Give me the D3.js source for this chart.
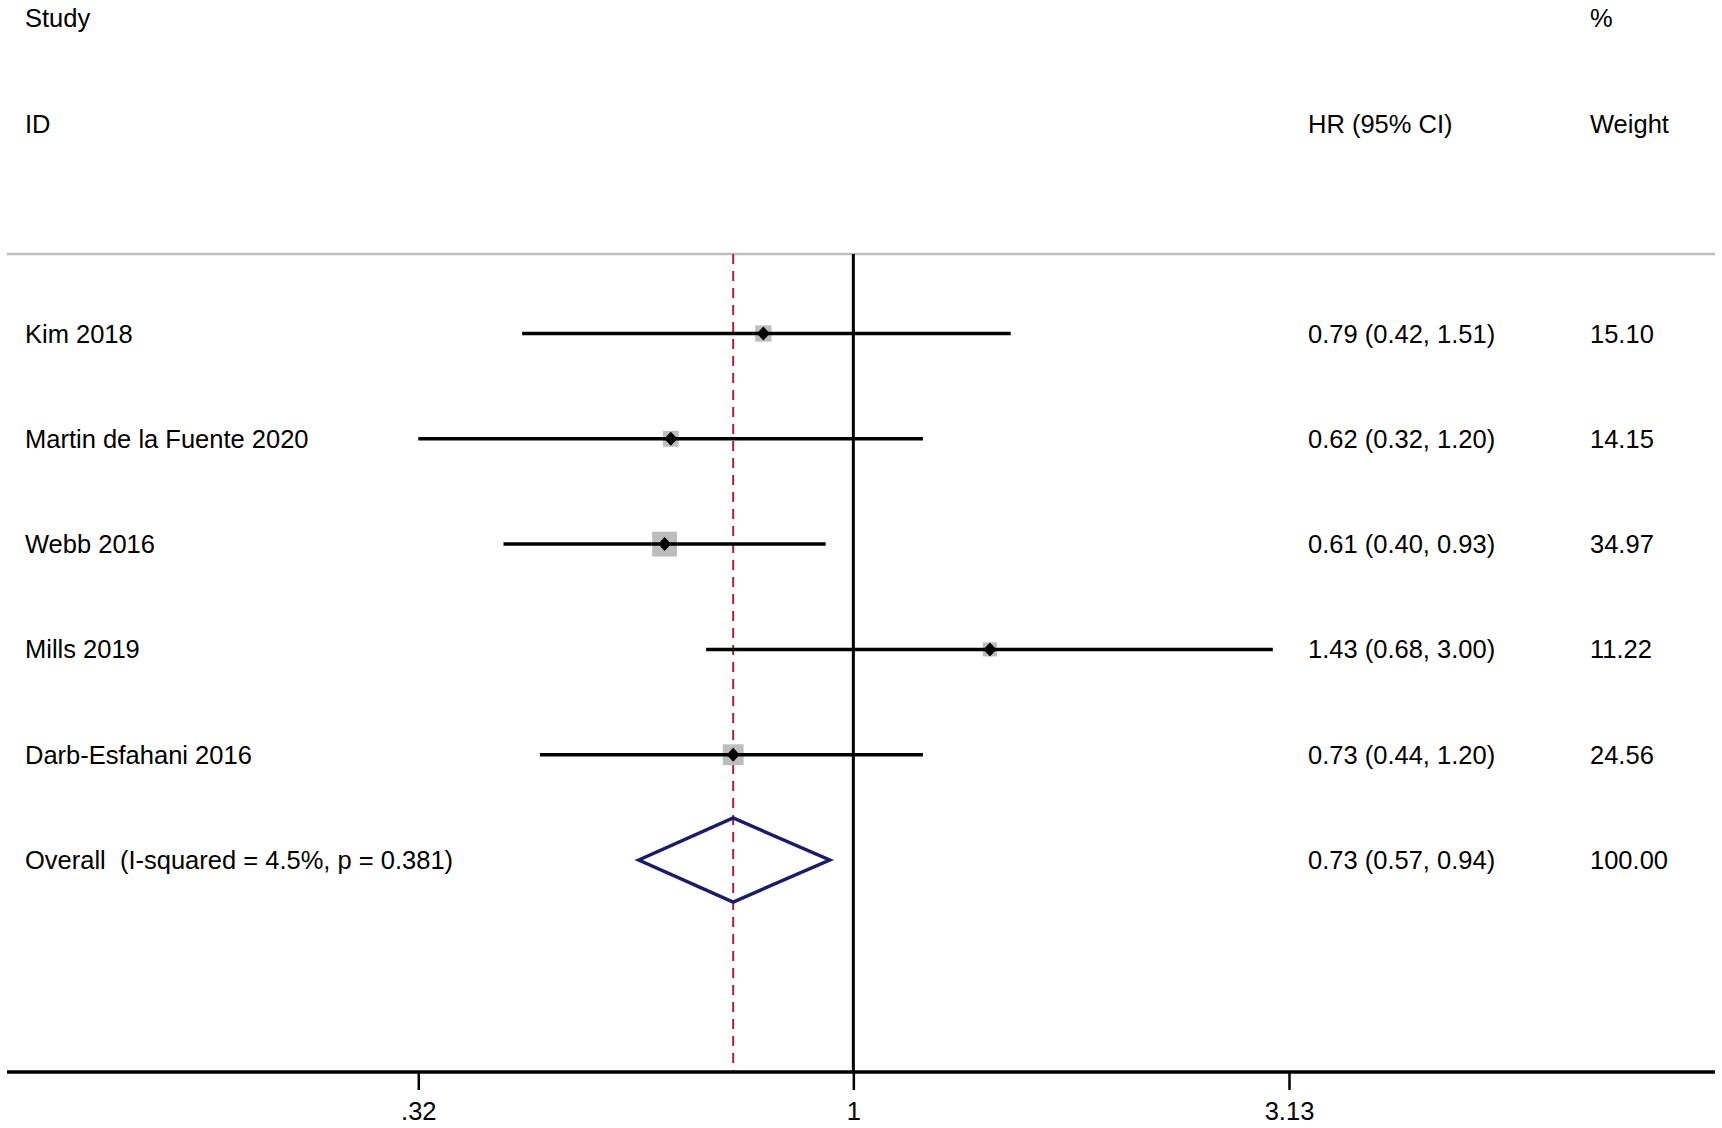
<!DOCTYPE html>
<html>
<head>
<meta charset="utf-8">
<script src="https://cdn.jsdelivr.net/npm/d3@7"></script>
<style>
  html, body { margin: 0; padding: 0; background: #fff; }
  svg { display: block; }
  text { font-family: "Liberation Sans", Arial, sans-serif; font-size: 25.5px; fill: #000; }
</style>
</head>
<body>
<svg id="chart" width="1722" height="1128"></svg>
<script>
// ---- data ----
const studies = ["Kim 2018", "Martin de la Fuente 2020", "Webb 2016", "Mills 2019", "Darb-Esfahani 2016"];
const hr      = [0.79, 0.62, 0.61, 1.43, 0.73];
const lower   = [0.42, 0.32, 0.40, 0.68, 0.44];
const upper   = [1.51, 1.20, 0.93, 3.00, 1.20];
const weights = ["15.10", "14.15", "34.97", "11.22", "24.56"];
const overallLabel = "Overall  (I-squared = 4.5%, p = 0.381)";
const overall = [0.73, 0.57, 0.94];
const overallWeight = "100.00";
const tickValues = [0.32, 1, 3.13];
const tickLabels = [".32", "1", "3.13"];

const fmt = d3.format(".2f");

// ---- layout ----
const svg = d3.select("#chart");
const x = d3.scaleLog().domain([0.32, 3.13]).range([418.3, 1289]);
const y = d3.scaleLinear().domain([0, 5]).range([333.5, 860]);
const topY = 254, axisY = 1072, leftX = 7, rightX = 1715;
const colText = 25, colHR = 1308, colW = 1590;

// headers
svg.append("text").attr("x", colText).attr("y", 27).text("Study");
svg.append("text").attr("x", colText).attr("y", 133).text("ID");
svg.append("text").attr("x", colHR).attr("y", 133).text("HR (95% CI)");
svg.append("text").attr("x", colW).attr("y", 27).text("%");
svg.append("text").attr("x", colW).attr("y", 133).text("Weight");

// top grey rule
svg.append("line").attr("x1", leftX).attr("x2", rightX).attr("y1", topY).attr("y2", topY)
  .attr("stroke", "#bdbdbd").attr("stroke-width", 2.5);

// null line at 1
svg.append("line").attr("x1", x(1)).attr("x2", x(1)).attr("y1", topY).attr("y2", axisY)
  .attr("stroke", "#000").attr("stroke-width", 3);

// overall dashed line
svg.append("line").attr("x1", x(overall[0])).attr("x2", x(overall[0])).attr("y1", topY).attr("y2", axisY)
  .attr("stroke", "#a3243b").attr("stroke-width", 2).attr("stroke-dasharray", "10,7");

// study rows
const rows = studies.map((s, i) => ({ s, hr: hr[i], lo: lower[i], hi: upper[i], w: weights[i], i }));
const g = svg.append("g");
rows.forEach(d => {
  const cy = y(d.i);
  const side = 4.2 * Math.sqrt(+d.w);
  g.append("rect").attr("x", x(d.hr) - side / 2).attr("y", cy - side / 2)
    .attr("width", side).attr("height", side).attr("fill", "#bdbdbd");
  g.append("line").attr("x1", x(d.lo)).attr("x2", x(d.hi)).attr("y1", cy).attr("y2", cy)
    .attr("stroke", "#000").attr("stroke-width", 3.5);
  const mx = x(d.hr);
  g.append("path").attr("d", `M${mx - 6.5},${cy} L${mx},${cy - 7} L${mx + 6.5},${cy} L${mx},${cy + 7} Z`)
    .attr("fill", "#000");
  g.append("text").attr("x", colText).attr("y", cy + 9).text(d.s);
  g.append("text").attr("x", colHR).attr("y", cy + 9)
    .text(`${fmt(d.hr)} (${fmt(d.lo)}, ${fmt(d.hi)})`);
  g.append("text").attr("x", colW).attr("y", cy + 9).text(d.w);
});

// overall diamond
const oy = y(5);
svg.append("path")
  .attr("d", `M${x(overall[1])},${oy} L${x(overall[0])},${oy - 42} L${x(overall[2])},${oy} L${x(overall[0])},${oy + 42} Z`)
  .attr("fill", "none").attr("stroke", "#1a1a6e").attr("stroke-width", 3.5).attr("stroke-linejoin", "miter");
svg.append("text").attr("x", colText).attr("y", oy + 9).attr("xml:space", "preserve").style("white-space", "pre").text(overallLabel);
svg.append("text").attr("x", colHR).attr("y", oy + 9)
  .text(`${fmt(overall[0])} (${fmt(overall[1])}, ${fmt(overall[2])})`);
svg.append("text").attr("x", colW).attr("y", oy + 9).text(overallWeight);

// x axis
const axis = d3.axisBottom(x).tickValues(tickValues)
  .tickFormat((d, i) => tickLabels[i]).tickSize(18).tickPadding(12);
const ag = svg.append("g").attr("transform", `translate(0,${axisY})`).call(axis);
ag.select(".domain").remove();
ag.selectAll(".tick line").attr("stroke", "#000").attr("stroke-width", 2.5);
ag.selectAll(".tick text").attr("font-family", null).attr("font-size", null)
  .style("font-size", "25.5px").style("font-family", '"Liberation Sans", Arial, sans-serif').attr("fill", "#000");
svg.append("line").attr("x1", leftX).attr("x2", rightX).attr("y1", axisY).attr("y2", axisY)
  .attr("stroke", "#000").attr("stroke-width", 3.5);
</script>
</body>
</html>
